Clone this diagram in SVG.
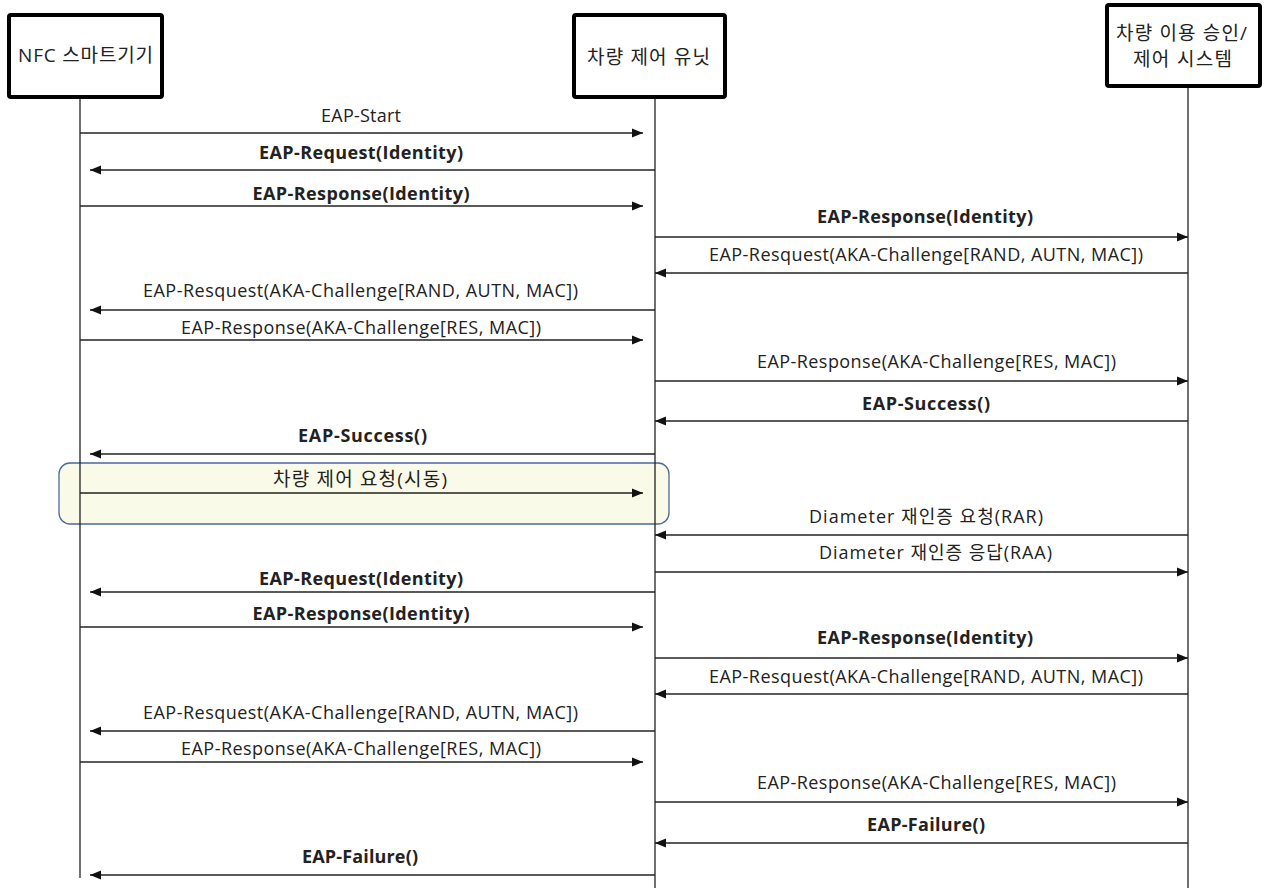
<svg xmlns="http://www.w3.org/2000/svg" width="1265" height="890" viewBox="0 0 1265 890">
<style>
.box{fill:#fff;stroke:#000;stroke-width:4}
.life{stroke:#222;stroke-width:1.3}
.msg{stroke:#222;stroke-width:1.5;fill:none;marker-end:url(#ah)}
text{font-family:"Open Sans","Noto Sans CJK KR",sans-serif;fill:#222;text-anchor:middle}
.h{font-size:19px}
.l{font-size:18px}
.k{font-size:19px}
.b{font-size:18px;font-weight:bold}
</style>
<defs>
<marker id="ah" markerUnits="userSpaceOnUse" markerWidth="12" markerHeight="10" refX="11" refY="5" orient="auto">
<path d="M0,0.5 L11,5 L0,9.5 Z" fill="#111"/>
</marker>
</defs>
<rect x="59" y="463" width="610" height="61" rx="11" fill="#fafae8" stroke="#4a6a98" stroke-width="1.3"/>
<g id="node-nfc">
<line class="life" x1="80" y1="98" x2="80" y2="878"/>
<rect class="box" x="9" y="15" width="153" height="82" rx="2"/>
<text class="h" x="85.5" y="62" textLength="135">NFC 스마트기기</text>
</g>
<g id="node-unit">
<line class="life" x1="655" y1="98" x2="655" y2="888"/>
<rect class="box" x="574" y="15" width="151" height="82" rx="2"/>
<text class="h" x="648.5" y="64" textLength="123">차량 제어 유닛</text>
</g>
<g id="node-system">
<line class="life" x1="1188" y1="87" x2="1188" y2="888"/>
<rect class="box" x="1107" y="5" width="153" height="81" rx="2"/>
<text class="h" x="1181.5" y="40" textLength="131">차량 이용 승인/</text>
<text class="h" x="1182.5" y="66" textLength="99">제어 시스템</text>
</g>
<g id="connectors">
<line class="msg" x1="80" y1="133" x2="643" y2="133"/>
<text class="l" x="361" y="122" textLength="80">EAP-Start</text>
<line class="msg" x1="655" y1="170" x2="90" y2="170"/>
<text class="b" x="361" y="159" textLength="204">EAP-Request(Identity)</text>
<line class="msg" x1="80" y1="206" x2="643" y2="206"/>
<text class="b" x="361" y="200" textLength="217">EAP-Response(Identity)</text>
<line class="msg" x1="655" y1="237" x2="1188" y2="237"/>
<text class="b" x="925" y="223" textLength="216">EAP-Response(Identity)</text>
<line class="msg" x1="1188" y1="273" x2="655" y2="273"/>
<text class="l" x="926" y="261" textLength="434">EAP-Resquest(AKA-Challenge[RAND, AUTN, MAC])</text>
<line class="msg" x1="655" y1="310" x2="90" y2="310"/>
<text class="l" x="360.5" y="297" textLength="435">EAP-Resquest(AKA-Challenge[RAND, AUTN, MAC])</text>
<line class="msg" x1="80" y1="340" x2="643" y2="340"/>
<text class="l" x="361" y="334" textLength="360">EAP-Response(AKA-Challenge[RES, MAC])</text>
<line class="msg" x1="655" y1="381" x2="1188" y2="381"/>
<text class="l" x="936.5" y="368" textLength="359">EAP-Response(AKA-Challenge[RES, MAC])</text>
<line class="msg" x1="1188" y1="421" x2="655" y2="421"/>
<text class="b" x="926" y="410" textLength="128">EAP-Success()</text>
<line class="msg" x1="655" y1="454" x2="90" y2="454"/>
<text class="b" x="362.5" y="442" textLength="129">EAP-Success()</text>
<line class="msg" x1="80" y1="493" x2="643" y2="493"/>
<text class="k" x="360" y="486" textLength="174">차량 제어 요청(시동)</text>
<line class="msg" x1="1188" y1="535" x2="655" y2="535"/>
<text class="l" x="926" y="523" textLength="234">Diameter 재인증 요청(RAR)</text>
<line class="msg" x1="655" y1="572" x2="1188" y2="572"/>
<text class="l" x="935.5" y="559" textLength="233">Diameter 재인증 응답(RAA)</text>
<line class="msg" x1="655" y1="592" x2="90" y2="592"/>
<text class="b" x="361" y="585" textLength="204">EAP-Request(Identity)</text>
<line class="msg" x1="80" y1="627" x2="643" y2="627"/>
<text class="b" x="361" y="620" textLength="217">EAP-Response(Identity)</text>
<line class="msg" x1="655" y1="658" x2="1188" y2="658"/>
<text class="b" x="925" y="644" textLength="216">EAP-Response(Identity)</text>
<line class="msg" x1="1188" y1="694" x2="655" y2="694"/>
<text class="l" x="926" y="683" textLength="434">EAP-Resquest(AKA-Challenge[RAND, AUTN, MAC])</text>
<line class="msg" x1="655" y1="731" x2="90" y2="731"/>
<text class="l" x="360.5" y="719" textLength="435">EAP-Resquest(AKA-Challenge[RAND, AUTN, MAC])</text>
<line class="msg" x1="80" y1="762" x2="643" y2="762"/>
<text class="l" x="361" y="755" textLength="360">EAP-Response(AKA-Challenge[RES, MAC])</text>
<line class="msg" x1="655" y1="802" x2="1188" y2="802"/>
<text class="l" x="936.5" y="789" textLength="359">EAP-Response(AKA-Challenge[RES, MAC])</text>
<line class="msg" x1="1188" y1="843" x2="655" y2="843"/>
<text class="b" x="926" y="831" textLength="118">EAP-Failure()</text>
<line class="msg" x1="655" y1="875" x2="90" y2="875"/>
<text class="b" x="360" y="863" textLength="116">EAP-Failure()</text>
</g>
</svg>
